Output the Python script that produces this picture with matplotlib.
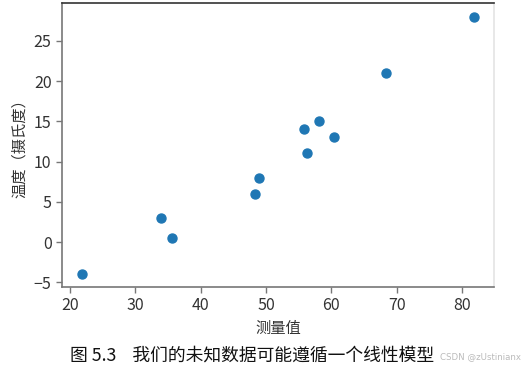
import matplotlib
matplotlib.use("Agg")
import matplotlib.pyplot as plt

plt.rcParams['font.family'] = ['Noto Sans CJK SC', 'DejaVu Sans']

# measured values (unknown units) and temperature in Celsius
t_u = [35.7, 55.9, 58.2, 81.9, 56.3, 48.9, 33.9, 21.8, 48.4, 60.4, 68.4]
t_c = [0.5, 14.0, 15.0, 28.0, 11.0, 8.0, 3.0, -4.0, 6.0, 13.0, 21.0]
xticks = [20, 30, 40, 50, 60, 70, 80]
yticks = [-5, 0, 5, 10, 15, 20, 25]

fig = plt.figure(figsize=(5.25, 3.69), dpi=100)
ax = fig.add_axes([0.118, 0.222, 0.823, 0.770])
ax.scatter(t_u, t_c, s=42, color='#1f77b4', zorder=3)

ax.set_xlim(18.8, 84.9)
ax.set_ylim(-5.6, 29.7)
ax.set_xticks(xticks)
ax.set_yticks(yticks)
ax.tick_params(labelsize=11.5, colors='#333333', length=4, width=1)
ax.tick_params(axis='both', color='#777777')

ax.spines['left'].set_color('#777777')
ax.spines['bottom'].set_color('#777777')
ax.spines['top'].set_color('#333333')
ax.spines['right'].set_color('#e4e4e4')
for s in ax.spines.values():
    s.set_linewidth(1.2)

ax.set_xlabel('测量值', fontsize=11, color='#333333', labelpad=4)
ax.set_ylabel('温度（摄氏度）', fontsize=11, color='#333333', labelpad=4)

fig.text(0.133, 0.022, '图 5.3    我们的未知数据可能遵循一个线性模型',
         fontsize=12.8, color='#111111')
fig.text(0.838, 0.028, 'CSDN @zUstinianx', fontsize=6.2, color='#bbbbbb',
         family=['DejaVu Sans'])

fig.savefig('out.png', dpi=100)
